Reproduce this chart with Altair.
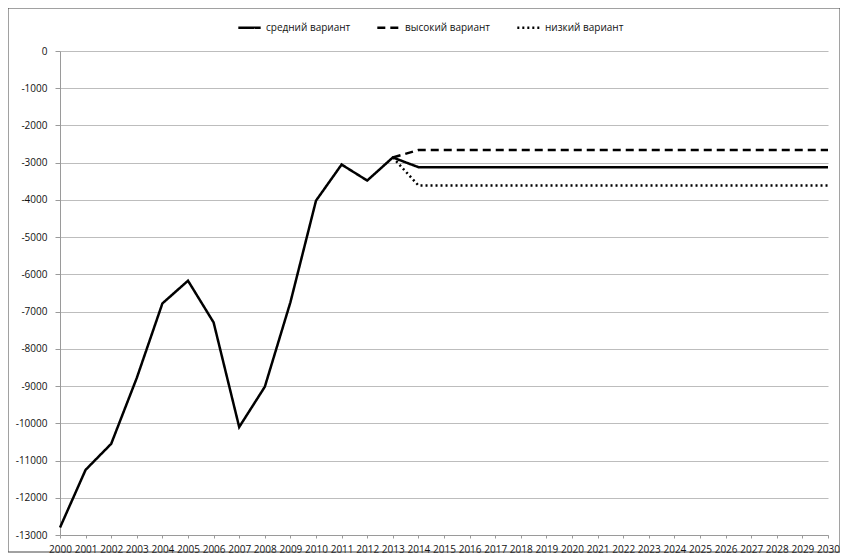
import altair as alt
import pandas as pd

# Historical values (2000-2013), shared by all variants
hist_years = [2000, 2001, 2002, 2003, 2004, 2005, 2006, 2007, 2008, 2009, 2010, 2011, 2012, 2013]
hist_values = [-12800, -11250, -10550, -8780, -6780, -6170, -7290, -10100, -9020, -6750, -4020, -3050, -3480, -2860]

# Projection years (2014-2030)
proj_years = [2014, 2015, 2016, 2017, 2018, 2019, 2020, 2021, 2022, 2023, 2024, 2025, 2026, 2027, 2028, 2029, 2030]
medium_proj = [-3120, -3120, -3120, -3120, -3120, -3120, -3120, -3120, -3120, -3120, -3120, -3120, -3120, -3120, -3120, -3120, -3120]
high_proj = [-2660, -2660, -2660, -2660, -2660, -2660, -2660, -2660, -2660, -2660, -2660, -2660, -2660, -2660, -2660, -2660, -2660]
low_proj = [-3610, -3610, -3610, -3610, -3610, -3610, -3610, -3610, -3610, -3610, -3610, -3610, -3610, -3610, -3610, -3610, -3610]

series_names = ["средний вариант", "высокий вариант", "низкий вариант"]
x_ticks = list(range(2000, 2031))
y_ticks = list(range(-13000, 1, 1000))

rows = []
for y, v in zip(hist_years, hist_values):
    rows.append({"year": y, "value": v, "series": series_names[0], "order": y})
for y, v in zip(proj_years, medium_proj):
    rows.append({"year": y, "value": v, "series": series_names[0], "order": y})
# high and low start from the last historical point
rows.append({"year": hist_years[-1], "value": hist_values[-1], "series": series_names[1], "order": hist_years[-1]})
for y, v in zip(proj_years, high_proj):
    rows.append({"year": y, "value": v, "series": series_names[1], "order": y})
rows.append({"year": hist_years[-1], "value": hist_values[-1], "series": series_names[2], "order": hist_years[-1]})
for y, v in zip(proj_years, low_proj):
    rows.append({"year": y, "value": v, "series": series_names[2], "order": y})

df = pd.DataFrame(rows)

FONT = "Open Sans"

lines = alt.Chart(df).mark_line(color="black", strokeWidth=2.5, clip=False).encode(
    x=alt.X("year:Q",
            scale=alt.Scale(domain=[2000, 2030], nice=False, zero=False),
            axis=alt.Axis(values=x_ticks, title=None, grid=False,
                          labelExpr="'' + datum.value",
                          labelOverlap=False, labelFontSize=10, labelFont=FONT,
                          labelColor="#111111", domainColor="#9a9a9a", tickColor="#9a9a9a",
                          tickSize=3, labelPadding=6, labelFlush=False)),
    y=alt.Y("value:Q",
            scale=alt.Scale(domain=[-13000, 0], nice=False),
            axis=alt.Axis(values=y_ticks, title=None, grid=True,
                          labelExpr="'' + datum.value",
                          gridColor="#bdbdbd", gridWidth=1,
                          labelFontSize=10, labelFont=FONT, labelColor="#111111",
                          domainColor="#9a9a9a", tickColor="#9a9a9a", tickSize=5,
                          labelPadding=8)),
    strokeDash=alt.StrokeDash("series:N",
                              scale=alt.Scale(domain=series_names,
                                              range=[[1, 0], [8, 5], [2, 3]]),
                              sort=series_names,
                              legend=alt.Legend(title=None, orient="none", direction="horizontal",
                                                legendX=177, legendY=-36,
                                                symbolType="stroke", symbolStrokeColor="black",
                                                symbolStrokeWidth=2.5, symbolSize=500,
                                                labelFont=FONT, labelFontSize=10,
                                                labelColor="#111111", columnPadding=21,
                                                labelOffset=4)),
    order="order:Q",
    detail="series:N",
)

frame = alt.Chart(pd.DataFrame({"a": [0]})).mark_rect(
    fill="transparent", stroke="#444444", strokeWidth=1, clip=False
).encode(
    x=alt.value(-52), x2=alt.value(780), y=alt.value(-43), y2=alt.value(501)
)

chart = alt.layer(frame, lines).properties(
    width=768, height=484,
    padding={"left": 52, "top": 43, "right": 12, "bottom": 24},
    autosize=alt.AutoSizeParams(type="none"),
    background="white",
).configure_view(strokeWidth=0)

chart.save("out.html", embed_options={"renderer": "svg", "actions": False})
